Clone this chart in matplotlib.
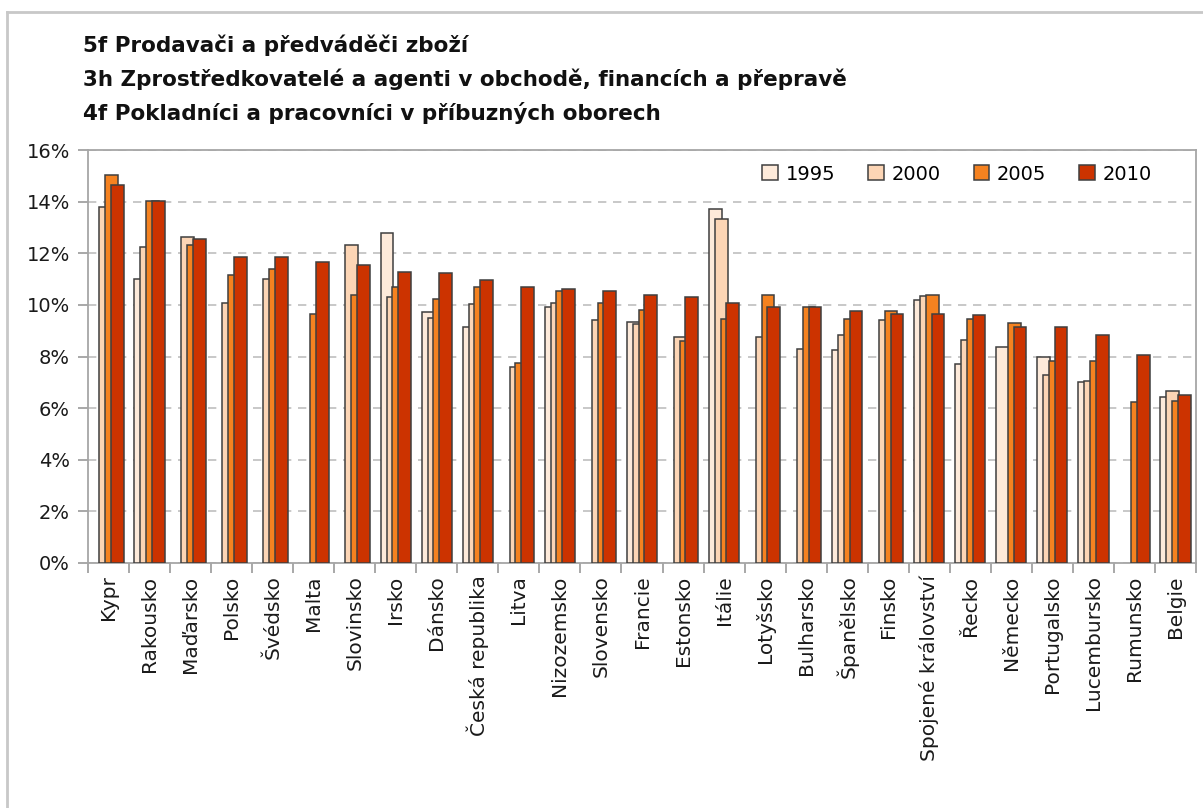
import numpy as np
import matplotlib.pyplot as plt
from matplotlib.lines import Line2D
from matplotlib.ticker import FixedLocator, FuncFormatter

# countries sorted by the 2010 value
countries = ['Kypr', 'Rakousko', 'Maďarsko', 'Polsko', 'Švédsko', 'Malta', 'Slovinsko',
             'Irsko', 'Dánsko', 'Česká republika', 'Litva', 'Nizozemsko', 'Slovensko',
             'Francie', 'Estonsko', 'Itálie', 'Lotyšsko', 'Bulharsko', 'Španělsko',
             'Finsko', 'Spojené království', 'Řecko', 'Německo', 'Portugalsko',
             'Lucembursko', 'Rumunsko', 'Belgie']
nan = np.nan
v1995 = [nan, 11.0, nan, nan, nan, nan, nan, 12.78, 9.74, 9.16, nan, 9.91, nan,
         9.32, nan, 13.71, nan, nan, 8.24, nan, 10.2, 7.7, 8.38, 8.0, 7.0, nan, 6.45]
v2000 = [13.8, 12.24, 12.62, 10.07, 11.0, nan, 12.31, 10.3, 9.51, 10.05, 7.61, 10.07,
         9.41, 9.26, 8.76, 13.32, 8.76, 8.3, 8.85, 9.4, 10.35, 8.62, nan, 7.29, 7.06,
         nan, 6.68]
v2005 = [15.05, 14.02, 12.31, 11.15, 11.38, 9.66, 10.37, 10.69, 10.22, 10.69, 7.76,
         10.52, 10.07, 9.8, 8.6, 9.47, 10.37, 9.9, 9.47, 9.78, 10.37, 9.46, 9.3, 7.83,
         7.83, 6.23, 6.29]
v2010 = [14.64, 14.02, 12.55, 11.85, 11.85, 11.68, 11.54, 11.29, 11.23, 10.98, 10.69,
         10.6, 10.52, 10.37, 10.3, 10.07, 9.9, 9.9, 9.78, 9.65, 9.65, 9.6, 9.15, 9.15,
         8.84, 8.06, 6.51]
years = ['1995', '2000', '2005', '2010']
series = [v1995, v2000, v2005, v2010]
colors = ['#FDEADA', '#FCD5B5', '#F58220', '#CC3300']

title_lines = ['5f Prodavači a předváděči zboží',
               '3h Zprostředkovatelé a agenti v obchodě, financích a přepravě',
               '4f Pokladníci a pracovníci v příbuzných oborech']

W, H = 1203, 808
fig = plt.figure(figsize=(W / 100, H / 100), dpi=100)
ax = fig.add_axes([88 / W, 1 - 563 / H, (1196 - 88) / W, (563 - 150) / H])

x = np.arange(len(countries))
bw = 0.31
step = 0.142
for k, (vals, c, lab) in enumerate(zip(series, colors, years)):
    ax.bar(x + (k - 1.5) * step, np.array(vals, dtype=float), width=bw, color=c,
           edgecolor='#3f3f3f', linewidth=1.1, label=lab, zorder=3 + k)

ax.set_xlim(-0.5, len(countries) - 0.5)
ax.set_ylim(0, 16)
ax.yaxis.set_major_locator(FixedLocator(np.arange(0, 17, 2)))
ax.yaxis.set_major_formatter(FuncFormatter(lambda v, p: f'{v:.0f}%'))
ax.yaxis.grid(True, linestyle=(0, (5, 4)), color='#BFBFBF', linewidth=1.2)
ax.set_axisbelow(True)

ax.set_xticks(x)
ax.set_xticklabels(countries, rotation=90, fontsize=14.5, color='#1a1a1a')
ax.xaxis.set_minor_locator(FixedLocator(np.arange(-0.5, len(countries), 1)))
ax.tick_params(axis='x', which='major', length=0, pad=9)
ax.tick_params(axis='x', which='minor', length=7, width=1.2, color='#9a9a9a', direction='out')
ax.tick_params(axis='y', length=7, width=1.2, color='#9a9a9a', direction='out',
               labelsize=14, labelcolor='#1a1a1a', pad=6)
for s in ax.spines.values():
    s.set_color('#a6a6a6')
    s.set_linewidth(1.3)

# title block
for i, t in enumerate(title_lines):
    fig.text(83 / W, 1 - (45 + 34 * i) / H, t, fontsize=15.5, fontweight='bold',
             va='center', ha='left', color='#111111')

leg = ax.legend(ncol=4, loc='center', bbox_to_anchor=(957 / W, 1 - 174 / H),
                bbox_transform=fig.transFigure, frameon=False, fontsize=14,
                handlelength=0.8, handleheight=0.8, handletextpad=0.4,
                columnspacing=1.7)

# outer chart frame (top and left edges visible)
fig.add_artist(Line2D([7 / W, 1], [1 - 12 / H, 1 - 12 / H], transform=fig.transFigure,
                      color='#c8c8c8', linewidth=2))
fig.add_artist(Line2D([7 / W, 7 / W], [0, 1 - 12 / H], transform=fig.transFigure,
                      color='#c8c8c8', linewidth=2))

fig.savefig('out.png', dpi=100, facecolor='white')
